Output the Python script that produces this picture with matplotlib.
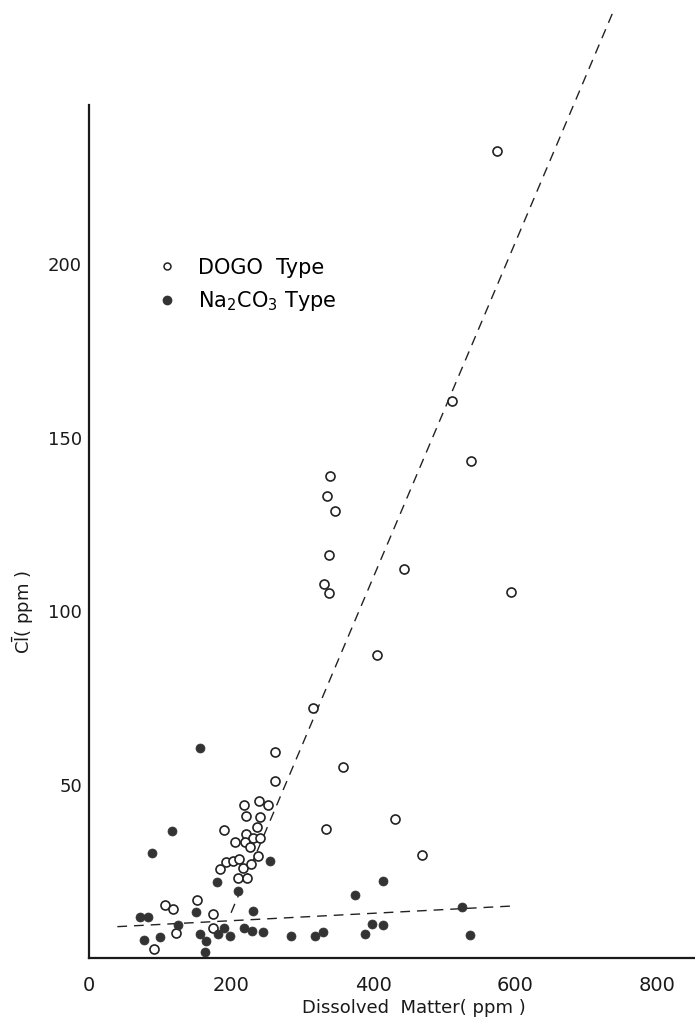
import matplotlib
matplotlib.use('Agg')
import matplotlib.pyplot as plt
from matplotlib.lines import Line2D

# DOGO type (open circles)
dogo_x = [575, 511, 538, 339, 335, 347, 338, 444, 331, 338, 594, 406, 316, 358,
          262, 262, 431, 334, 469,
          218, 239, 252, 221, 241, 237, 190, 221, 231, 241, 206, 220, 227, 238,
          193, 203, 211, 185, 217, 228, 210, 223, 152, 107, 118, 175, 175, 123, 92]
dogo_y = [232.8, 160.7, 143.4, 139.0, 133.3, 128.9, 116.2, 112.2, 107.9, 105.3, 105.6, 87.4, 72.1, 55.1,
          59.4, 51.1, 40.1, 37.2, 29.7,
          44.1, 45.3, 44.1, 41.0, 40.7, 37.8, 36.9, 35.8, 34.6, 34.6, 33.5, 33.5, 32.0, 29.4,
          27.7, 28.0, 28.6, 25.7, 26.0, 27.1, 23.1, 23.1, 16.7, 15.3, 14.1, 12.7, 8.7, 7.2, 2.6]

# Na2CO3 type (filled circles)
naco_x = [156, 117, 89, 255, 180, 210, 151, 231, 72, 83, 125, 78, 100, 156, 165, 163,
          182, 190, 199, 218, 230, 245, 285, 318, 330, 375, 414, 389, 399, 414, 525, 537]
naco_y = [60.6, 36.6, 30.3, 28.0, 21.9, 19.3, 13.3, 13.6, 11.8, 11.8, 9.5, 5.2, 6.1, 6.9, 4.9, 1.7,
          6.9, 8.7, 6.3, 8.7, 7.8, 7.5, 6.3, 6.3, 7.5, 18.2, 22.2, 6.9, 9.8, 9.5, 14.7, 6.6]

# dashed trend lines (end points)
steep_x = [200, 738]
steep_y = [13, 273]
flat_x = [40, 600]
flat_y = [9, 15]

xticks = [0, 200, 400, 600, 800]
yticks = [50, 100, 150, 200]

plt.rcParams['font.family'] = ['DejaVu Sans']

fig = plt.figure(figsize=(6.95, 10.19), dpi=100)
ax = fig.add_axes([0.128, 0.06, 0.872, 0.837])

ax.plot(steep_x, steep_y, color='#222222', lw=1.0, ls=(0, (7, 5)), clip_on=False)
ax.plot(flat_x, flat_y, color='#222222', lw=1.0, ls=(0, (7, 5)))

ax.scatter(dogo_x, dogo_y, s=42, facecolors='white', edgecolors='#222222',
           linewidths=1.2, zorder=3, clip_on=False)
ax.scatter(naco_x, naco_y, s=42, color='#333333', edgecolors='#333333',
           linewidths=0.5, zorder=3, clip_on=False)

ax.set_xlim(0, 853)
ax.set_ylim(0, 246)
ax.set_xticks(xticks)
ax.set_yticks(yticks)
ax.tick_params(axis='x', length=0, pad=13, labelsize=14, labelcolor='#1a1a1a')
ax.tick_params(axis='y', length=0, pad=5, labelsize=13, labelcolor='#1a1a1a')

for side in ['top', 'right']:
    ax.spines[side].set_visible(False)
for side in ['left', 'bottom']:
    ax.spines[side].set_linewidth(1.6)
    ax.spines[side].set_color('#1a1a1a')

ax.set_xlabel('Dissolved  Matter( ppm )', fontsize=13, color='#1a1a1a')
ax.xaxis.set_label_coords(0.536, -0.048)
ax.set_ylabel(r'C$\bar{\mathrm{l}}$( ppm )', fontsize=13, color='#1a1a1a')
ax.yaxis.set_label_coords(-0.088, 0.405)

handles = [
    Line2D([], [], ls='none', marker='o', ms=5, mfc='white', mec='#222222', mew=1.1),
    Line2D([], [], ls='none', marker='o', ms=6, mfc='#333333', mec='#333333'),
]
ax.legend(handles, ['DOGO  Type', r'Na$_2$CO$_3$ Type'], loc='upper left',
          bbox_to_anchor=(0.08, 0.843), frameon=False, fontsize=15,
          handletextpad=1.0, labelspacing=0.55, handlelength=1.0)

fig.savefig('out.png', dpi=100, facecolor='white')
